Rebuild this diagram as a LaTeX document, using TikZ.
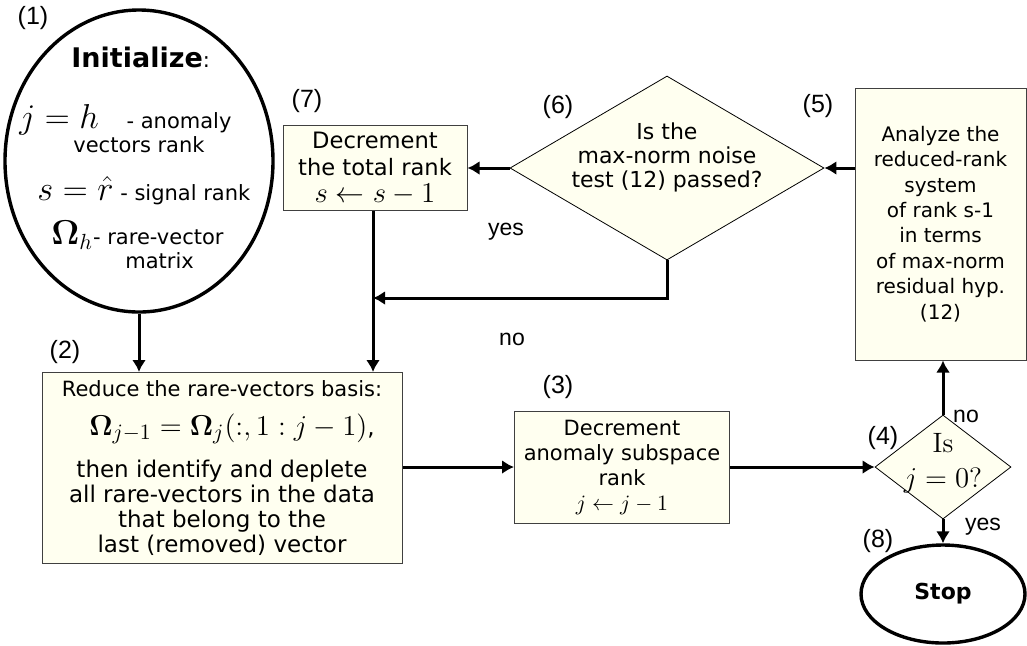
\documentclass[tikz,border=0pt]{standalone}
\usepackage{amsmath}
\usepackage{fontspec}
\newfontfamily\verdfont{DejaVu Sans}
\newfontfamily\arialfont{Liberation Sans}
\usetikzlibrary{shapes.geometric,arrows.meta}
\definecolor{boxfill}{RGB}{255,255,240}
\newcommand\bigmath[2]{{\fontsize{#1}{#1}\selectfont$#2$}}

\begin{document}
\begin{tikzpicture}[x=0.5pt,y=-0.5pt,
    procbox/.style={draw=black!75, line width=0.5pt, fill=boxfill, align=center,
        inner sep=1pt, font=\verdfont\fontsize{10}{12.7}\selectfont},
    testdiam/.style={draw, line width=0.4pt, fill=boxfill, shape=diamond, inner sep=0pt},
    diamtext/.style={align=center, inner sep=0pt},
    termoval/.style={draw, line width=1.7pt, shape=ellipse, inner sep=0pt},
    steplabel/.style={font=\arialfont\fontsize{12.5}{12.5}\selectfont},
    flowtag/.style={font=\arialfont\fontsize{11.5}{11.5}\selectfont},
    flow/.style={line width=1.5pt, -{Latex[length=6pt,width=7pt]}}]
    \useasboundingbox (0,0) rectangle (1027,645);

    % start ellipse (1)
    \node[termoval, minimum width=134pt, minimum height=151pt] (init) at (139,161) {};
    \node[align=left, anchor=west, inner sep=0pt, font=\verdfont\fontsize{10.5}{12}\selectfont] (inittxt) at (5,158)
        {\hspace*{33pt}{\bfseries\fontsize{13.5}{13.5}\selectfont Initialize}:\\[17pt]
         \hspace*{7pt}\bigmath{16}{j=h}\quad\ - anomaly\\ \hspace*{34pt}vectors rank\\[11pt]
         \hspace*{16pt}\bigmath{17}{s=\hat{r}} - signal rank\\[7pt]
         \hspace*{23pt}\bigmath{16}{\boldsymbol{\Omega}_h}- rare-vector\\ \hspace*{60pt}matrix};

    % boxes
    \node[procbox, minimum width=180pt, minimum height=95.5pt,
        font=\verdfont\fontsize{11.5}{12.5}\selectfont] (reduce) at (222,468)
        {{\fontsize{10.5}{12.5}\selectfont Reduce the rare-vectors basis:}\\[7pt]
         \hspace*{10pt}\bigmath{15.8}{\boldsymbol{\Omega}_{j-1}=\boldsymbol{\Omega}_j(:,1:j-1)},\\[7pt]
         then identify and deplete\\ all rare-vectors in the data\\
         that belong to the\\ last (removed) vector};
    \node[procbox, minimum width=92pt, minimum height=42.5pt,
        font=\verdfont\fontsize{11.3}{13.5}\selectfont] (totrank) at (375,168)
        {Decrement\\ the total rank\\ \bigmath{14}{s\leftarrow s-1}};
    \node[procbox, minimum width=107.5pt, minimum height=56pt,
        font=\verdfont\fontsize{10.5}{12.5}\selectfont] (anrank) at (622,467)
        {Decrement\\ anomaly subspace\\ rank\\ \bigmath{11}{j\leftarrow j-1}};
    \node[procbox, minimum width=85.5pt, minimum height=136pt] (analyze) at (940.5,224)
        {Analyze the\\ reduced-rank\\ system\\ of rank s-1\\ in terms\\
         of max-norm\\ residual hyp.\\ (12)};

    % decisions
    \node[testdiam, minimum width=157pt, minimum height=92pt] (noise) at (667,168) {};
    \node[diamtext, font=\verdfont\fontsize{11}{12}\selectfont] (noisetxt) at (667,157)
        {Is the\\ max-norm noise\\ test (12) passed?};
    \node[testdiam, minimum width=68pt, minimum height=52pt] (isj) at (943,467) {};
    \node[diamtext, font=\fontsize{14}{17.5}\selectfont] (isjtxt) at (943,463)
        {Is\\ \bigmath{15}{j=0}?};

    % end
    \node[termoval, minimum width=82pt, minimum height=49pt,
        font=\verdfont\bfseries\fontsize{11}{11}\selectfont] (stop) at (943,594) {Stop};

    % step numbers
    \node[steplabel] (n1) at (33,18) {(1)};
    \node[steplabel] (n2) at (65,352) {(2)};
    \node[steplabel] (n3) at (558,387) {(3)};
    \node[steplabel] (n4) at (883,438) {(4)};
    \node[steplabel] (n5) at (818,106) {(5)};
    \node[steplabel] (n6) at (558,107) {(6)};
    \node[steplabel] (n7) at (307,101) {(7)};
    \node[steplabel] (n8) at (878,541) {(8)};

    % connectors
    \coordinate (merge) at (373,298);
    \draw[flow] (init.south) -- (init.south |- reduce.north);
    \draw[flow] (totrank.south -| merge) -- (merge |- reduce.north);
    \draw[flow] (noise.south) |- (merge);
    \draw[flow] (noise.west) -- (totrank.east);
    \draw[flow] (analyze.west |- noise.east) -- (noise.east);
    \draw[flow] (reduce.east |- anrank.west) -- (anrank.west);
    \draw[flow] (anrank.east) -- (isj.west);
    \draw[flow] (isj.north) -- (isj.north |- analyze.south);
    \draw[flow] (isj.south) -- (stop.north);

    % branch tags
    \node[flowtag] (yes6) at (506,232) {yes};
    \node[flowtag] (no6) at (512,339) {no};
    \node[flowtag] (no4) at (966,416) {no};
    \node[flowtag] (yes4) at (983,527) {yes};
\end{tikzpicture}
\end{document}
